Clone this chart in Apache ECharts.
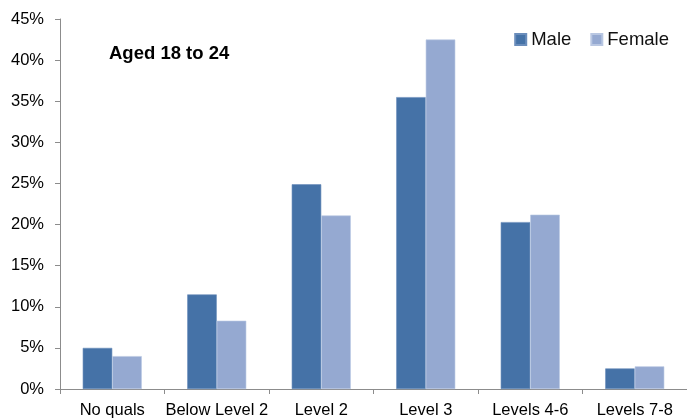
<!DOCTYPE html>
<html>
<head>
<meta charset="utf-8">
<style>
  html, body { margin: 0; padding: 0; background: #fff; }
  #chart { width: 687px; height: 419px; }
</style>
<script src="https://cdn.jsdelivr.net/npm/echarts@6/dist/echarts.min.js"></script>
</head>
<body>
<div id="chart"></div>
<script>
// Highest qualification level, aged 18 to 24, by sex (percent)
const categories = ['No quals', 'Below Level 2', 'Level 2', 'Level 3', 'Levels 4-6', 'Levels 7-8'];
const maleValues = [5.0, 11.5, 24.9, 35.5, 20.3, 2.5];
const femaleValues = [4.0, 8.3, 21.1, 42.5, 21.2, 2.75];
const yTicks = { min: 0, max: 45, step: 5 };

const font = 'Liberation Sans, Arial, sans-serif';
const axisGray = '#8c8c8c';

const chart = echarts.init(document.getElementById('chart'), null, { renderer: 'canvas' });

chart.setOption({
  animation: false,
  backgroundColor: '#ffffff',
  title: {
    text: 'Aged 18 to 24',
    left: 104,
    top: 39,
    textStyle: { fontFamily: font, fontSize: 18.5, fontWeight: 'bold', color: '#000' }
  },
  legend: {
    right: 13,
    top: 25,
    itemWidth: 11,
    itemHeight: 11,
    itemGap: 19,
    icon: 'rect',
    textStyle: { fontFamily: font, fontSize: 18.5, color: '#111' },
    data: ['Male', 'Female']
  },
  grid: { left: 60, right: 0, top: 19, bottom: 30, containLabel: false },
  xAxis: {
    type: 'category',
    data: categories,
    axisLine: { lineStyle: { color: axisGray, width: 1 } },
    axisTick: { show: true, length: 5, alignWithLabel: false, lineStyle: { color: axisGray } },
    axisLabel: { fontFamily: font, fontSize: 16.5, color: '#000', margin: 13, interval: 0 }
  },
  yAxis: {
    type: 'value',
    min: yTicks.min,
    max: yTicks.max,
    interval: yTicks.step,
    axisLine: { show: true, lineStyle: { color: axisGray, width: 1 } },
    axisTick: { show: true, length: 5, lineStyle: { color: axisGray } },
    splitLine: { show: false },
    axisLabel: {
      fontFamily: font,
      fontSize: 16.5,
      color: '#000',
      margin: 16,
      formatter: v => v + '%'
    }
  },
  series: [
    {
      name: 'Male',
      type: 'bar',
      data: maleValues,
      barGap: '0%',
      barCategoryGap: '43.5%',
      itemStyle: { color: '#4572a7', borderColor: '#6a8dbb', borderWidth: 0.6 }
    },
    {
      name: 'Female',
      type: 'bar',
      data: femaleValues,
      barGap: '0%',
      barCategoryGap: '43.5%',
      itemStyle: { color: '#95a9d1', borderColor: '#b9c7e2', borderWidth: 0.6 }
    }
  ]
});
</script>
</body>
</html>
